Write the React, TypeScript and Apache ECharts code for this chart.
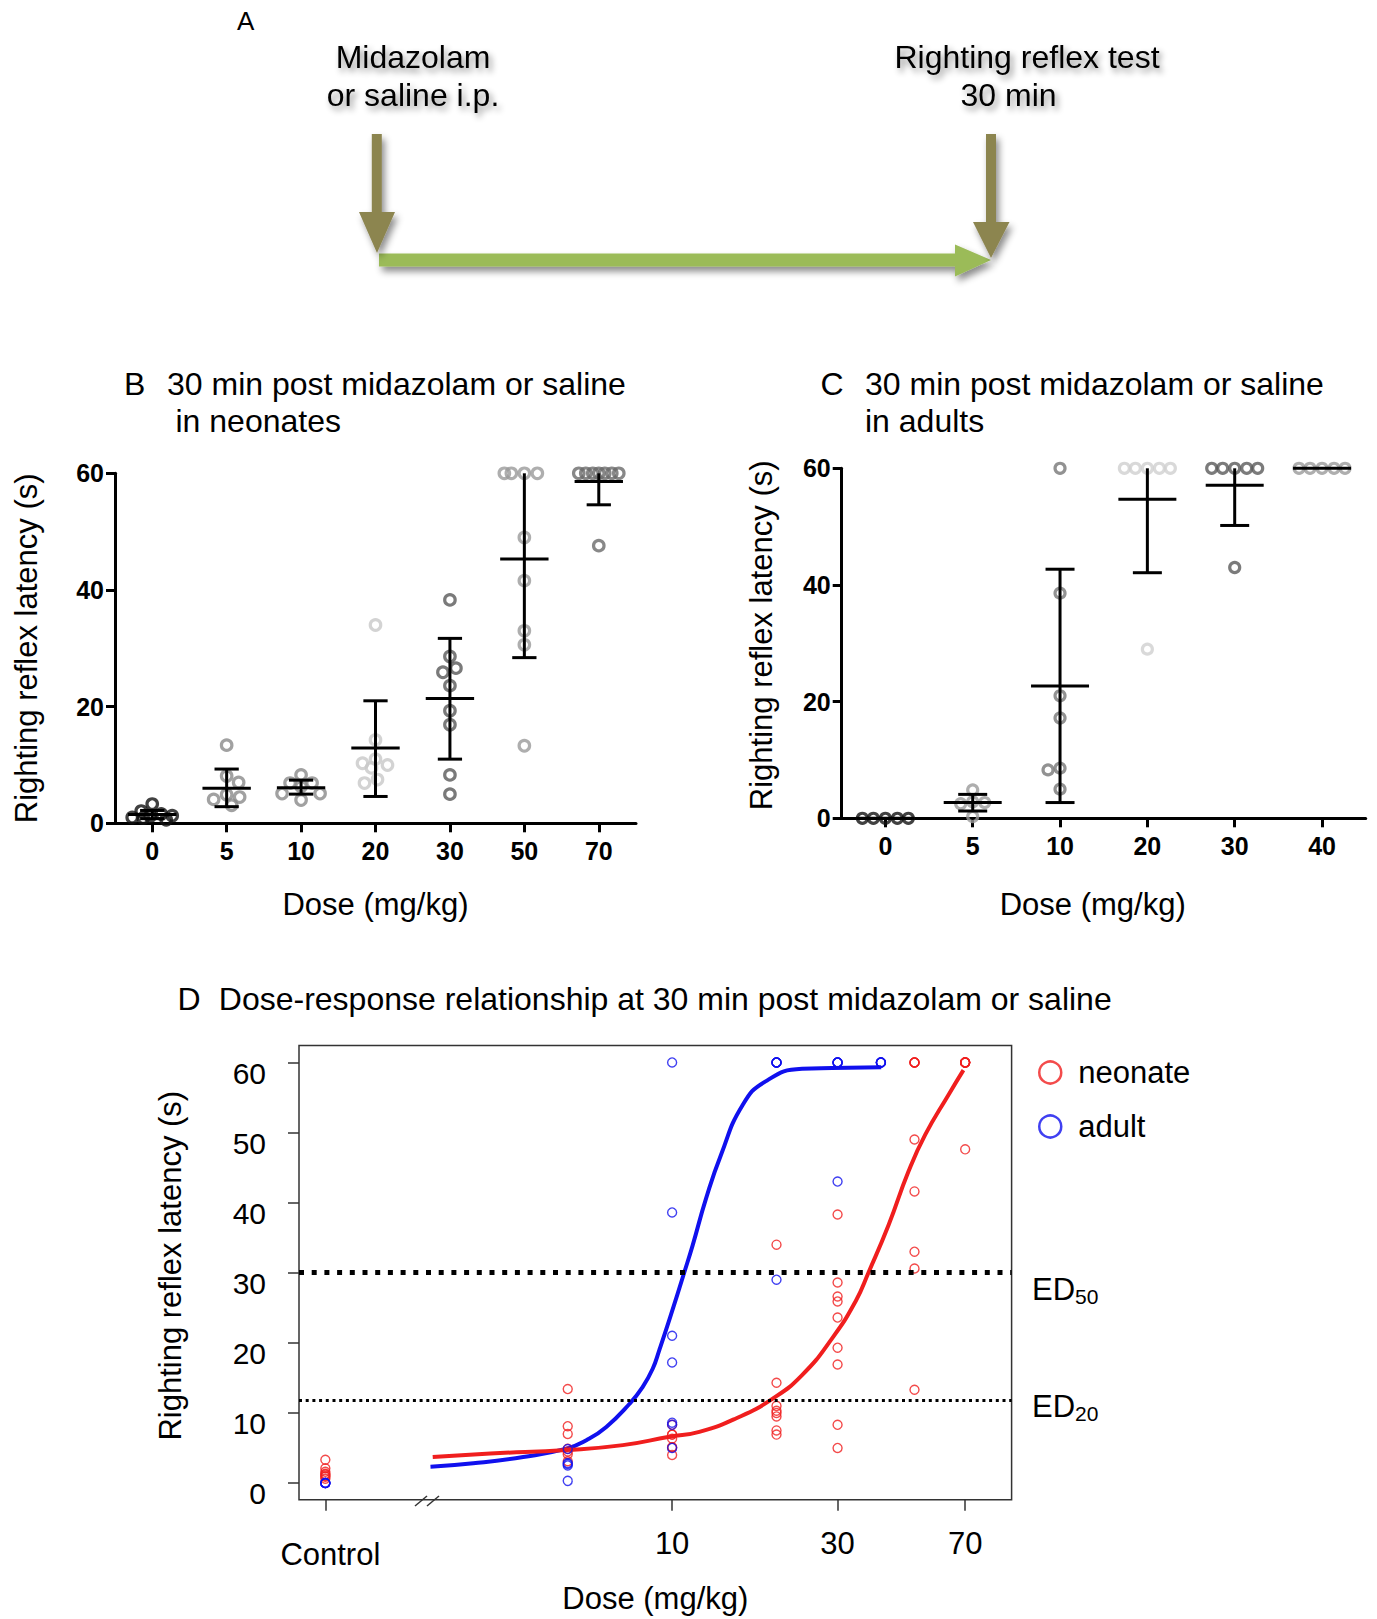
import React, { useEffect, useRef } from 'react';
import * as echarts from 'echarts';

const FONT = 'Liberation Sans, Arial, Helvetica, sans-serif';

// ---------- Panel B: neonates ----------
const bDoses = ['0', '5', '10', '20', '30', '50', '70'];
const bValues: number[][] = [
  [3.3, 2.1, 1.6, 1.2, 1.0, 0.9, 1.3, 0.6],
  [13.4, 8.1, 7.0, 4.9, 4.5, 4.1, 3.1],
  [8.3, 6.9, 6.9, 6.3, 5.1, 5.1, 4.0],
  [34.0, 14.3, 11.0, 10.3, 10.0, 9.5, 7.5, 6.9],
  [38.3, 28.6, 26.6, 25.9, 23.6, 19.3, 16.9, 8.3, 5.0],
  [60, 60, 60, 60, 49.0, 41.6, 33.0, 30.6, 13.3],
  [60, 60, 60, 60, 60, 60, 60, 47.6],
];
const bMean = [1.5, 6.0, 6.1, 12.9, 21.4, 45.3, 58.6];
const bLow = [0.8, 2.85, 5.0, 4.6, 11.0, 28.4, 54.6];
const bHigh = [2.2, 9.3, 7.4, 21.0, 31.7, 60, 60];
const bColors = ['#111111', '#8a8a8a', '#8a8a8a', '#c8c8c8', '#595959', '#9a9a9a', '#6a6a6a'];

// ---------- Panel C: adults ----------
const cDoses = ['0', '5', '10', '20', '30', '40'];
const cValues: number[][] = [
  [0, 0, 0, 0, 0],
  [4.85, 2.7, 2.5, 2.85, 0.3],
  [60, 38.6, 21.0, 17.2, 8.6, 8.3, 5.0],
  [60, 60, 60, 60, 60, 29.0],
  [60, 60, 60, 60, 60, 43.0],
  [60, 60, 60, 60, 60],
];
const cMean = [0, 2.7, 22.7, 54.7, 57.1, 60];
const cLow = [0, 1.25, 2.7, 42.1, 50.2, 60];
const cHigh = [0, 4.1, 42.7, 60, 60, 60];
const cColors = ['#111111', '#9a9a9a', '#777777', '#cfcfcf', '#5a5a5a', '#9a9a9a'];

// ---------- Panel D: dose-response ----------
// control group is plotted at the 1 mg/kg position of the log axis
const dNeonateDose = [1, 5, 10, 20, 30, 50, 70];
const dAdultDose = [1, 5, 10, 20, 30, 40];
const dTickDoses = [1, 10, 30, 70];
const dTickLabels = ['Control', '10', '30', '70'];
const dYTicks = [0, 10, 20, 30, 40, 50, 60];

const adultFitDose = [2.01, 2.67, 3.72, 4.96, 5.66, 6.46, 7.54, 8.2, 8.79, 9.19, 9.82, 10.85, 11.46, 12.53, 13.83, 15.96, 18.6, 23.7, 28.9, 40.1];
const adultFitVal = [2.3, 2.8, 3.7, 4.9, 6.1, 8.0, 11.3, 13.6, 16.3, 19.0, 23.3, 30.1, 33.9, 40.6, 46.8, 53.9, 57.3, 59.1, 59.2, 59.3];
const neonateFitDose = [2.04, 2.99, 4.96, 7.21, 9.82, 11.98, 15.27, 19.46, 23.7, 28.9, 33.8, 36.9, 42.1, 48.0, 53.7, 62.7, 69.2];
const neonateFitVal = [3.7, 4.2, 4.7, 5.4, 6.6, 7.3, 9.2, 12.0, 15.4, 20.6, 25.9, 30.1, 36.8, 44.4, 49.7, 55.4, 58.9];

const ed50 = 30;
const ed20 = 11.8;

const RED = '#f01e1e';
const BLUE = '#1010ee';

// deterministic beeswarm offsets (pixels) so that open circles do not overlap
function swarm(values: number[], pxPerUnit: number, dia: number, maxOff: number): number[] {
  const placed: { x: number; y: number }[] = [];
  const offs = new Array(values.length).fill(0);
  const order = values.map((_, i) => i).sort((a, b) => values[b] - values[a]);
  for (const idx of order) {
    const y = values[idx] * pxPerUnit;
    let best = 0;
    let bestScore = -Infinity;
    let done = false;
    const signs = placed.length % 2 ? [-1, 1] : [1, -1];
    for (let k = 0; k <= maxOff && !done; k += 1) {
      for (const s of signs) {
        const x = s * k;
        let minD = Infinity;
        for (const p of placed) minD = Math.min(minD, Math.hypot(p.x - x, p.y - y));
        if (minD >= dia) {
          best = x;
          done = true;
          break;
        }
        if (minD > bestScore + 0.01) {
          bestScore = minD;
          best = x;
        }
      }
    }
    placed.push({ x: best, y });
    offs[idx] = best;
  }
  return offs;
}

function errRender(meanFrac: number, capFrac: number, topClip: number) {
  return (params: any, api: any) => {
    const i = api.value(0);
    const mean = api.value(1);
    const low = api.value(2);
    const high = api.value(3);
    const m = api.coord([i, mean]);
    const lo = api.coord([i, low]);
    const hi = api.coord([i, high]);
    const band = api.size([1, 0])[0];
    const mh = band * meanFrac;
    const ch = band * capFrac;
    const style = { stroke: '#000', lineWidth: 3, fill: 'none' };
    const children: any[] = [
      { type: 'line', shape: { x1: m[0] - mh, y1: m[1], x2: m[0] + mh, y2: m[1] }, style },
    ];
    if (high > low) {
      children.push({ type: 'line', shape: { x1: lo[0], y1: lo[1], x2: hi[0], y2: hi[1] }, style });
      children.push({ type: 'line', shape: { x1: lo[0] - ch, y1: lo[1], x2: lo[0] + ch, y2: lo[1] }, style });
      if (high < topClip) {
        children.push({ type: 'line', shape: { x1: hi[0] - ch, y1: hi[1], x2: hi[0] + ch, y2: hi[1] }, style });
      }
    }
    return { type: 'group', children };
  };
}

const txt = (text: string, x: number, y: number, size: number, align = 'left', extra: any = {}) => ({
  type: 'text',
  x,
  y,
  silent: true,
  style: {
    text,
    fontSize: size,
    fontFamily: FONT,
    fill: '#000',
    align,
    verticalAlign: 'middle',
    ...extra,
  },
});

export default function App() {
  const ref = useRef<HTMLDivElement>(null);

  useEffect(() => {
    if (!ref.current) return;
    const chart = echarts.init(ref.current, undefined, { renderer: 'svg' });

    const pxB = 350 / 60;
    const bOffs = bValues.map((g) => swarm(g, pxB, 13, 20));
    const cOffs = cValues.map((g) => swarm(g, pxB, 11.5, 23));

    const bScatter = bValues.flatMap((g, i) =>
      g.map((v, j) => ({ value: [i, v], symbolOffset: [bOffs[i][j], 0], itemStyle: { borderColor: bColors[i] } }))
    );
    const cScatter = cValues.flatMap((g, i) =>
      g.map((v, j) => ({ value: [i, v], symbolOffset: [cOffs[i][j], 0], itemStyle: { borderColor: cColors[i] } }))
    );

    const dNeo = bValues.flatMap((g, i) => g.map((v) => [Math.log10(dNeonateDose[i]), v]));
    const dAdu = cValues.flatMap((g, i) => g.map((v) => [Math.log10(dAdultDose[i]), v]));

    const tickNum = { fontWeight: 'bold', fontSize: 25, fontFamily: FONT, color: '#000' };
    const prismAxisLine = { show: true, onZero: false, lineStyle: { color: '#000', width: 3 } };
    const prismTick = { show: true, length: 9, lineStyle: { color: '#000', width: 3 } };
    const nameStyle = { fontSize: 31, fontFamily: FONT, color: '#000' };

    const dTickX = dTickDoses.map((d) => Math.log10(d));

    const olive = '#8c8550';
    const green = '#9bbb59';
    const shadow = { shadowBlur: 7, shadowOffsetX: 3, shadowOffsetY: 5, shadowColor: 'rgba(0,0,0,0.45)' };
    const textShadow = {
      shadowBlur: 6, shadowOffsetX: 3, shadowOffsetY: 4, shadowColor: 'rgba(0,0,0,0.45)',
      textShadowBlur: 6, textShadowOffsetX: 3, textShadowOffsetY: 4, textShadowColor: 'rgba(0,0,0,0.45)',
    };

    const option: any = {
      animation: false,
      backgroundColor: '#ffffff',
      textStyle: { fontFamily: FONT },
      grid: [
        { left: 115, top: 473.3, width: 521, height: 350, outerBoundsMode: 'none' },
        { left: 841.7, top: 468.3, width: 524, height: 350, outerBoundsMode: 'none' },
        {
          left: 299, top: 1045.6, width: 712.6, height: 454.2, outerBoundsMode: 'none',
          show: true, borderColor: '#333', borderWidth: 1.5, backgroundColor: 'transparent',
        },
      ],
      xAxis: [
        {
          type: 'category', gridIndex: 0, data: bDoses,
          axisLine: prismAxisLine, axisTick: { ...prismTick, alignWithLabel: true },
          axisLabel: { ...tickNum, margin: 15 }, splitLine: { show: false },
          name: 'Dose (mg/kg)', nameLocation: 'middle', nameGap: 66, nameTextStyle: nameStyle,
        },
        {
          type: 'category', gridIndex: 1, data: cDoses,
          axisLine: prismAxisLine, axisTick: { ...prismTick, alignWithLabel: true },
          axisLabel: { ...tickNum, margin: 15 }, splitLine: { show: false },
          name: 'Dose (mg/kg)', nameLocation: 'middle', nameGap: 71,
          nameTextStyle: { ...nameStyle, padding: [0, 22, 0, 0] },
        },
        {
          type: 'value', gridIndex: 2, min: -0.076, max: 1.979,
          axisLine: { show: false, onZero: false },
          axisTick: { show: true, length: 11, customValues: dTickX, lineStyle: { color: '#333', width: 1.5 } },
          axisLabel: {
            customValues: dTickX, fontSize: 31, fontFamily: FONT, color: '#000', margin: 28,
            formatter: (v: number) => {
              let best = 0;
              dTickX.forEach((t, k) => { if (Math.abs(t - v) < Math.abs(dTickX[best] - v)) best = k; });
              return best === 0 ? '{c|' + dTickLabels[best] + '}' : dTickLabels[best];
            },
            rich: {
              c: { fontSize: 31, fontFamily: FONT, color: '#000', padding: [11, 0, 0, 10] },
            },
          },
          splitLine: { show: false },
          name: 'Dose (mg/kg)', nameLocation: 'middle', nameGap: 83, nameTextStyle: nameStyle,
        },
      ],
      yAxis: [
        {
          type: 'value', gridIndex: 0, min: 0, max: 60, interval: 20,
          axisLine: prismAxisLine, axisTick: prismTick,
          axisLabel: { ...tickNum, margin: 11 }, splitLine: { show: false },
          name: 'Righting reflex latency (s)', nameLocation: 'middle', nameGap: 73, nameRotate: 90,
          nameTextStyle: nameStyle,
        },
        {
          type: 'value', gridIndex: 1, min: 0, max: 60, interval: 20,
          axisLine: prismAxisLine, axisTick: prismTick,
          axisLabel: { ...tickNum, margin: 11 }, splitLine: { show: false },
          name: 'Righting reflex latency (s)', nameLocation: 'middle', nameGap: 65, nameRotate: 90,
          nameTextStyle: { ...nameStyle, padding: [0, 0, 0, 16] },
        },
        {
          type: 'value', gridIndex: 2, min: -2.4, max: 62.4,
          axisLine: { show: false, onZero: false },
          axisTick: { show: true, length: 11, customValues: dYTicks, lineStyle: { color: '#333', width: 1.5 } },
          axisLabel: {
            customValues: dYTicks, fontSize: 30, fontFamily: FONT, color: '#000', margin: 33,
            verticalAlign: 'top', lineHeight: 22,
          },
          splitLine: { show: false },
          name: 'Righting reflex latency (s)', nameLocation: 'middle', nameGap: 113, nameRotate: 90,
          nameTextStyle: { ...nameStyle, padding: [0, 0, 0, 14] },
        },
      ],
      legend: {
        orient: 'vertical', left: 1038, top: 1057, itemWidth: 22, itemHeight: 22, itemGap: 23,
        selectedMode: false, padding: 0,
        textStyle: { fontSize: 31, fontFamily: FONT, color: '#000', padding: [0, 0, 0, 12] },
        data: [
          { name: 'neonate', icon: 'circle', itemStyle: { color: 'rgba(0,0,0,0)', borderColor: RED, borderWidth: 2.5 } },
          { name: 'adult', icon: 'circle', itemStyle: { color: 'rgba(0,0,0,0)', borderColor: BLUE, borderWidth: 2.5 } },
        ],
      },
      series: [
        {
          name: 'neonates B', type: 'scatter', xAxisIndex: 0, yAxisIndex: 0, clip: false,
          symbol: 'circle', symbolSize: 10.5,
          itemStyle: { color: 'rgba(0,0,0,0)', borderWidth: 3.2 },
          data: bScatter, z: 2,
        },
        {
          name: 'neonates B mean', type: 'custom', xAxisIndex: 0, yAxisIndex: 0, clip: false,
          renderItem: errRender(0.325, 0.163, 60),
          encode: { x: 0, y: 1 },
          data: bMean.map((m, i) => [i, m, bLow[i], bHigh[i]]), z: 3,
        },
        {
          name: 'adults C', type: 'scatter', xAxisIndex: 1, yAxisIndex: 1, clip: false,
          symbol: 'circle', symbolSize: 10,
          itemStyle: { color: 'rgba(0,0,0,0)', borderWidth: 3.2 },
          data: cScatter, z: 2,
        },
        {
          name: 'adults C mean', type: 'custom', xAxisIndex: 1, yAxisIndex: 1, clip: false,
          renderItem: errRender(0.332, 0.166, 60),
          encode: { x: 0, y: 1 },
          data: cMean.map((m, i) => [i, m, cLow[i], cHigh[i]]), z: 3,
        },
        {
          name: 'adult fit', type: 'line', xAxisIndex: 2, yAxisIndex: 2, smooth: 0.5,
          symbol: 'none',
          lineStyle: { color: BLUE, width: 4 },
          data: adultFitDose.map((d, k) => [Math.log10(d), adultFitVal[k]]), z: 2,
        },
        {
          name: 'neonate fit', type: 'line', xAxisIndex: 2, yAxisIndex: 2, smooth: 0.5,
          symbol: 'none',
          lineStyle: { color: RED, width: 4 },
          data: neonateFitDose.map((d, k) => [Math.log10(d), neonateFitVal[k]]), z: 2,
          markLine: {
            silent: true, symbol: ['none', 'none'], label: { show: false }, z: 5,
            data: [
              { yAxis: ed50, lineStyle: { color: '#000', width: 5, type: [5, 7.7], cap: 'butt' } },
              { yAxis: ed20, lineStyle: { color: '#000', width: 2.8, type: [3, 3.7], cap: 'butt' } },
            ],
          },
        },
        {
          name: 'neonate', type: 'scatter', xAxisIndex: 2, yAxisIndex: 2, clip: false,
          symbol: 'circle', symbolSize: 9,
          itemStyle: { color: 'rgba(0,0,0,0)', borderColor: RED, borderWidth: 1.4 },
          data: dNeo, z: 3,
        },
        {
          name: 'adult', type: 'scatter', xAxisIndex: 2, yAxisIndex: 2, clip: false,
          symbol: 'circle', symbolSize: 9,
          itemStyle: { color: 'rgba(0,0,0,0)', borderColor: BLUE, borderWidth: 1.4 },
          data: dAdu, z: 3,
        },
      ],
      graphic: [
        // Panel A
        txt('A', 245.7, 21, 26, 'center'),
        txt('Midazolam', 413, 57, 32, 'center', textShadow),
        txt('or saline i.p.', 413, 95, 32, 'center', textShadow),
        txt('Righting reflex test', 1027, 57, 32, 'center', textShadow),
        txt('30 min', 1008.5, 95, 32, 'center', textShadow),
        {
          type: 'polygon', silent: true,
          shape: { points: [[379, 253.5], [955, 253.5], [955, 244.6], [991, 260], [955, 276.6], [955, 266.5], [379, 266.5]] },
          style: { fill: green, ...shadow },
        },
        {
          type: 'polygon', silent: true,
          shape: { points: [[371.8, 134], [381.8, 134], [381.8, 212], [395, 212], [377, 253], [359, 212], [371.8, 212]] },
          style: { fill: olive, ...shadow },
        },
        {
          type: 'polygon', silent: true,
          shape: { points: [[986, 134], [996, 134], [996, 222], [1009.5, 222], [991, 258], [973, 222], [986, 222]] },
          style: { fill: olive, ...shadow },
        },
        // Panel titles
        txt('B', 124, 384, 32),
        txt('30 min post midazolam or saline', 167, 384, 32),
        txt('in neonates', 175.5, 421, 32),
        txt('C', 820.6, 384, 32),
        txt('30 min post midazolam or saline', 865, 384, 32),
        txt('in adults', 865, 421, 32),
        txt('D', 177.5, 999, 32),
        txt('Dose-response relationship at 30 min post midazolam or saline', 218.8, 999, 32),
        // ED labels
        txt('ED', 1032, 1289, 31),
        txt('50', 1075, 1296, 21),
        txt('ED', 1032, 1406, 31),
        txt('20', 1075, 1413, 21),
        // axis break marks
        { type: 'line', silent: true, shape: { x1: 415, y1: 1506, x2: 427, y2: 1496 }, style: { stroke: '#333', lineWidth: 1.5 } },
        { type: 'line', silent: true, shape: { x1: 427, y1: 1506, x2: 439, y2: 1496 }, style: { stroke: '#333', lineWidth: 1.5 } },
      ],
    };

    chart.setOption(option);
    return () => chart.dispose();
  }, []);

  return (
    <div
      ref={ref}
      style={{ position: 'absolute', left: 0, top: 0, width: 1377, height: 1619, background: '#fff' }}
    />
  );
}
